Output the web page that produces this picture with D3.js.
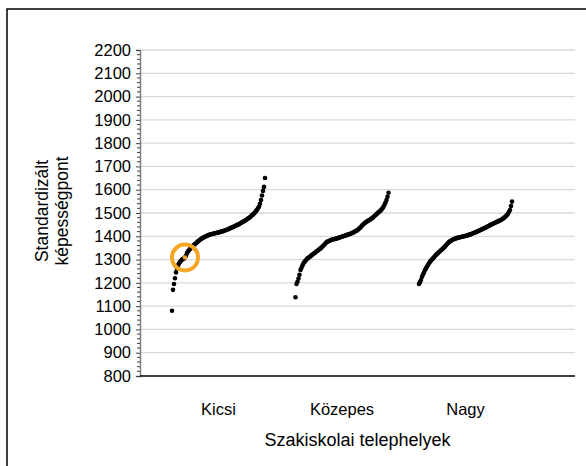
<!DOCTYPE html>
<html><head><meta charset="utf-8">
<script src="https://cdn.jsdelivr.net/npm/d3@7"></script>
<style>body{margin:0;background:#fff;}svg{display:block;}</style>
</head><body>
<script>
const categories = ["Kicsi", "Közepes", "Nagy"];
const yTicks = [800,900,1000,1100,1200,1300,1400,1500,1600,1700,1800,1900,2000,2100,2200];
const xTitle = "Szakiskolai telephelyek";
const yTitle = ["Standardizált", "képességpont"];
const kicsi = [1080,1170,1195,1220,1245,1262,1275,1283,1290,1295,1300,1302,1305,1309,1316,1328,1335,1340,1345,1350,
1355,1359,1363,1367,1370,1374,1378,1382,1385,1388,1391,1394,1396,1398,1400,1402,1404,1406,1407,1409,
1410,1411,1412,1413,1414,1415,1416,1417,1418,1420,1421,1422,1424,1425,1427,1428,1430,1432,1434,1436,
1438,1440,1442,1444,1446,1448,1450,1452,1455,1457,1460,1462,1465,1467,1470,1473,1476,1479,1482,1486,
1490,1494,1498,1503,1508,1514,1520,1527,1540,1556,1575,1595,1612,1650];
const kozepes = [1138,1195,1205,1219,1235,1255,1265,1275,1284,1290,1295,1300,1305,1308,1311,1314,1318,1322,1325,1328,
1331,1335,1338,1341,1345,1348,1352,1356,1360,1365,1370,1374,1377,1379,1381,1383,1385,1386,1387,1388,
1389,1390,1392,1393,1395,1396,1398,1399,1400,1402,1403,1405,1406,1408,1410,1411,1413,1415,1417,1419,
1422,1424,1427,1430,1434,1438,1443,1448,1452,1456,1459,1462,1465,1468,1470,1473,1476,1479,1483,1487,
1491,1495,1499,1503,1506,1510,1515,1520,1527,1535,1545,1556,1570,1587];
const nagy = [1195,1203,1212,1226,1236,1245,1255,1262,1270,1277,1284,1291,1296,1300,1305,1310,1315,1320,1324,1328,
1332,1336,1340,1344,1348,1352,1356,1361,1366,1371,1375,1378,1381,1384,1386,1388,1390,1391,1393,1394,
1395,1396,1397,1398,1399,1400,1401,1402,1403,1405,1406,1408,1409,1411,1413,1415,1416,1418,1420,1422,
1424,1426,1428,1430,1432,1434,1436,1438,1441,1443,1445,1447,1450,1452,1454,1456,1458,1460,1462,1464,
1466,1468,1470,1473,1476,1479,1483,1487,1491,1497,1505,1513,1530,1549];
const series = [kicsi, kozepes, nagy];
const highlight = {group: 0, index: 13};

const W = 586, H = 466;
const font = "'Liberation Sans', Arial, sans-serif";
const svg = d3.select("body").append("svg").attr("width", W).attr("height", H);

// frame
svg.append("rect").attr("x", 7).attr("y", 9).attr("width", 600).attr("height", 500)
  .attr("fill", "none").attr("stroke", "#000").attr("stroke-width", 1.5);

const pLeft = 140, pRight = 575, pTop = 50, pBottom = 376;
const groupStep = 123.5, nPts = 94;
const x = d3.scaleLinear().domain([-32, 403]).range([pLeft, pRight]);
const y = d3.scaleLinear().domain([800, 2200]).range([pBottom, pTop]);

// gridlines
svg.append("g").selectAll("line").data(yTicks.filter(t => t > 800)).join("line")
  .attr("x1", pLeft).attr("x2", pRight).attr("y1", d => y(d)).attr("y2", d => y(d))
  .attr("stroke", "#d9d9d9").attr("stroke-width", 1.3);

// y axis
const yAxis = d3.axisLeft(y).tickValues(yTicks).tickSize(4).tickPadding(5).tickFormat(d3.format("d"));
const ga = svg.append("g").attr("transform", `translate(${pLeft},0)`).call(yAxis);
ga.select(".domain").attr("stroke", "#808080").attr("stroke-width", 1.5);
ga.selectAll(".tick line").attr("stroke", "#404040");
ga.selectAll(".tick text").attr("font-family", font).attr("font-size", 16.5).attr("fill", "#000");
const minor = d3.range(800, 2201, 20).filter(v => v % 100 !== 0);
svg.append("g").selectAll("line").data(minor).join("line")
  .attr("x1", pLeft - 3).attr("x2", pLeft).attr("y1", d => y(d)).attr("y2", d => y(d))
  .attr("stroke", "#404040").attr("stroke-width", 1);

// baseline
svg.append("line").attr("x1", pLeft).attr("x2", pRight).attr("y1", y(800)).attr("y2", y(800))
  .attr("stroke", "#000").attr("stroke-width", 1.5);

// points
series.forEach((vals, g) => {
  svg.append("g").selectAll("circle").data(vals).join("circle")
    .attr("cx", (d, i) => x(g * groupStep + i))
    .attr("cy", d => y(d)).attr("r", 2.3).attr("fill", "#000");
});

// highlight
const hv = series[highlight.group][highlight.index];
const hx = x(highlight.group * groupStep + highlight.index), hy = y(hv);
svg.append("circle").attr("cx", hx).attr("cy", hy).attr("r", 2.3).attr("fill", "#f0a020");
svg.append("circle").attr("cx", hx).attr("cy", hy).attr("r", 13)
  .attr("fill", "none").attr("stroke", "#f5a623").attr("stroke-width", 4);

// category labels
svg.append("g").selectAll("text").data(categories).join("text")
  .attr("x", (d, g) => x(g * groupStep + (nPts - 1) / 2)).attr("y", 415)
  .attr("text-anchor", "middle").attr("font-family", font).attr("font-size", 16.5)
  .text(d => d);

svg.append("text").attr("x", (pLeft + pRight) / 2).attr("y", 446).attr("text-anchor", "middle")
  .attr("font-family", font).attr("font-size", 18).text(xTitle);

const yt = svg.append("text").attr("transform", `translate(0,211) rotate(-90)`)
  .attr("text-anchor", "middle").attr("font-family", font).attr("font-size", 17.5);
yt.append("tspan").attr("x", 0).attr("y", 48).text(yTitle[0]);
yt.append("tspan").attr("x", 0).attr("y", 68).text(yTitle[1]);
</script>
</body></html>
